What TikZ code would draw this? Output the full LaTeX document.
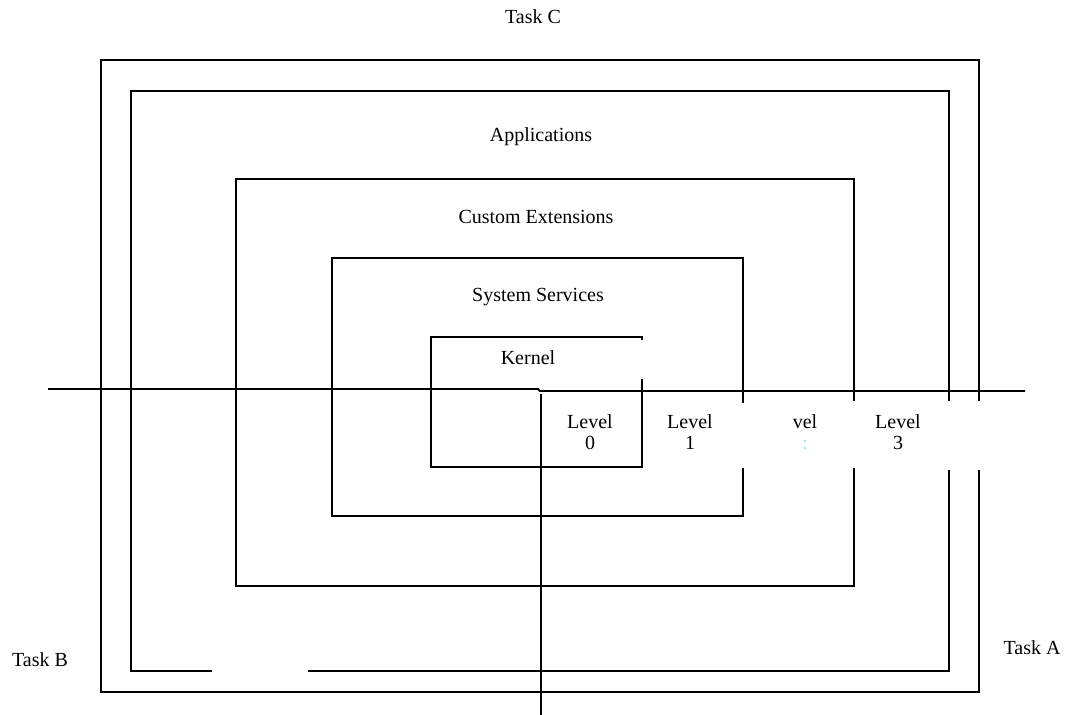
\documentclass[tikz,border=0pt]{standalone}
\usepackage{fontspec}
\setmainfont{Liberation Serif}
\usepackage{tikz}

\begin{document}
\begin{tikzpicture}[x=0.5pt,y=-0.5pt,line width=0.95pt,
  every node/.style={font=\fontsize{10}{10.5}\selectfont,inner sep=0pt},
  lvl/.style={align=center}]
  \useasboundingbox (0,0) rectangle (1065,715);
  % nested rings
  \draw (979,401) -- (979,60) -- (101,60) -- (101,692) -- (979,692) -- (979,470);
  \draw (949,401) -- (949,91) -- (131,91) -- (131,671) -- (212,671);
  \draw (308,671) -- (949,671) -- (949,470);
  \draw (854,401) -- (854,179) -- (236,179) -- (236,586) -- (854,586) -- (854,468);
  \draw (743,403) -- (743,258) -- (332,258) -- (332,516) -- (743,516) -- (743,468);
  \draw (642,340) -- (642,337) -- (431,337) -- (431,467) -- (642,467) -- (642,379);
  % axes
  \draw (48,389) -- (538,389) -- (540,391) -- (1025,391);
  \draw (541,394) -- (541,715);
  % labels
  \node (taskC) at (533,17) {Task C};
  \node (taskB) at (40,660) {Task B};
  \node (taskA) at (1032,648) {Task A};
  \node (apps) at (541,137) {Applications};
  \node (ext) at (536,217) {Custom Extensions};
  \node (svc) at (538,297) {System Services};
  \node (kern) at (528,358) {Kernel};
  \node[lvl] (lvl0) at (590,432) {Level\\0};
  \node[lvl] (lvl1) at (690,432) {Level\\1};
  \node[lvl] (lvl2) at (805,432) {vel\\{\color{cyan!40}:}};
  \node[lvl] (lvl3) at (898,432) {Level\\3};
\end{tikzpicture}
\end{document}
